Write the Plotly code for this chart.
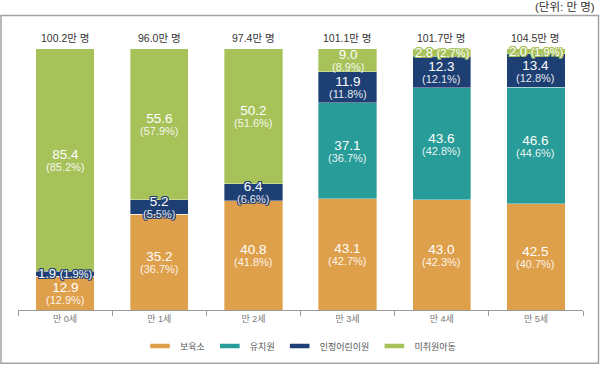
import plotly.graph_objects as go

categories = ["만 0세", "만 1세", "만 2세", "만 3세", "만 4세", "만 5세"]
totals = ["100.2만 명", "96.0만 명", "97.4만 명", "101.1만 명", "101.7만 명", "104.5만 명"]

series_names = ["보육소", "유치원", "인정어린이원", "미취원아동"]
series_colors = ["#DFA04B", "#289C98", "#1E3F74", "#A8C25A"]

boyukso_val = [12.9, 35.2, 40.8, 43.1, 43.0, 42.5]
boyukso_pct = [12.9, 36.7, 41.8, 42.7, 42.3, 40.7]
yuchiwon_val = [0, 0, 0, 37.1, 43.6, 46.6]
yuchiwon_pct = [0, 0, 0, 36.7, 42.8, 44.6]
injeong_val = [1.9, 5.2, 6.4, 11.9, 12.3, 13.4]
injeong_pct = [1.9, 5.5, 6.6, 11.8, 12.1, 12.8]
michwi_val = [85.4, 55.6, 50.2, 9.0, 2.8, 2.0]
michwi_pct = [85.2, 57.9, 51.6, 8.9, 2.7, 1.9]

values = [boyukso_val, yuchiwon_val, injeong_val, michwi_val]
pcts = [boyukso_pct, yuchiwon_pct, injeong_pct, michwi_pct]

FONT = "Liberation Sans, Noto Sans CJK KR, sans-serif"

# plot area geometry (pixels)
W, H = 600, 371
ML, MR, MT, MB = 18, 17, 30, 60
PW = W - ML - MR
PH = H - MT - MB
YMAX = 100 * PH / 262.0


def px_x(p):
    return (p - ML) / PW


def px_y(p):
    return (H - MB - p) / PH


fig = go.Figure()

for name, color, pct in zip(series_names, series_colors, pcts):
    fig.add_trace(go.Bar(
        x=categories, y=pct, name=name,
        marker=dict(color=color, line=dict(color="rgba(255,255,255,0.6)", width=0.6)),
        showlegend=False, hoverinfo="skip",
    ))
    fig.add_trace(go.Scatter(
        x=[None], y=[None], name=name, mode="markers",
        marker=dict(symbol="line-ew", size=14, line=dict(color=color, width=4.5)),
        showlegend=True,
    ))

annotations = []
cum = [0.0] * len(categories)
for s, (color, val, pct) in enumerate(zip(series_colors, values, pcts)):
    for i, cat in enumerate(categories):
        p = pct[i]
        center = cum[i] + p / 2
        cum[i] += p
        if p <= 0:
            continue
        if p < 7:
            sh = ", ".join(f"{dx}px {dy}px 0 {color}" for dx in (-1, 0, 1) for dy in (-1, 0, 1) if dx or dy)
        else:
            sh = "none"
        if p < 3:
            annotations.append(dict(
                x=cat, y=center, xref="x", yref="y", showarrow=False,
                text=f"{val[i]:.1f} <span style='font-size:11px'>({p:.1f}%)</span>",
                font=dict(family=FONT, size=13, color="white", shadow=sh),
                yanchor="middle",
            ))
        else:
            annotations.append(dict(
                x=cat, y=center, xref="x", yref="y", showarrow=False,
                text=(f"<span style='font-size:13.5px'>{val[i]:.1f}</span><br>"
                      f"<span style='font-size:11px;fill:rgba(255,255,255,0.9)'>({p:.1f}%)</span>"),
                font=dict(family=FONT, size=9.2, color="white", shadow=sh),
                yanchor="middle",
            ))

for i, cat in enumerate(categories):
    annotations.append(dict(
        x=cat, y=cum[i], xref="x", yref="y", showarrow=False,
        text=totals[i], font=dict(family=FONT, size=10.5, color="#333333"),
        yanchor="bottom", yshift=3,
    ))

annotations.append(dict(
    x=px_x(597), y=px_y(7), xref="paper", yref="paper", showarrow=False,
    text="(단위: 만 명)", font=dict(family=FONT, size=11.5, color="#333333"),
    xanchor="right", yanchor="middle",
))

fig.update_layout(
    width=W, height=H,
    margin=dict(l=ML, r=MR, t=MT, b=MB),
    barmode="stack", bargap=0.38,
    plot_bgcolor="white", paper_bgcolor="white",
    font=dict(family=FONT),
    xaxis=dict(
        showline=True, linecolor="#9a9a9a", linewidth=1,
        ticks="outside", tickson="boundaries", ticklen=5, tickcolor="#9a9a9a",
        tickfont=dict(family=FONT, size=9, color="#777777"),
        showgrid=False,
    ),
    yaxis=dict(range=[0, YMAX], visible=False, showgrid=False),
    legend=dict(
        orientation="h", x=0.5, xanchor="center", y=px_y(346), yanchor="middle",
        font=dict(family=FONT, size=9, color="#555555"),
        itemwidth=30, traceorder="normal",
    ),
    annotations=annotations,
    shapes=[dict(
        type="rect", xref="paper", yref="paper",
        x0=px_x(1), x1=px_x(598.5), y0=px_y(364.5), y1=px_y(15.5),
        line=dict(color="#a3a3a3", width=1.5), layer="below",
    )],
)

fig.write_html(
    "out.html",
    config={"displayModeBar": False},
    post_script="document.body.style.margin='0';document.body.style.padding='0';",
)
